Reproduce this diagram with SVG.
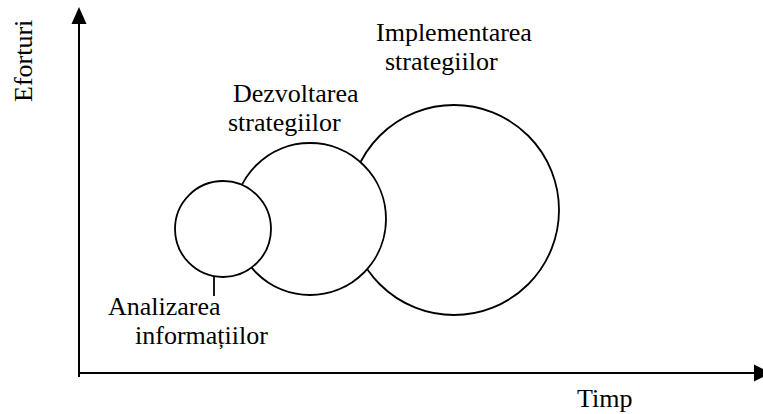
<svg xmlns="http://www.w3.org/2000/svg" width="763" height="414" viewBox="0 0 763 414">
  <style>
    text { font-family: 'Liberation Serif', 'Times New Roman', 'DejaVu Serif', serif; font-size: 26px; fill: #000; }
    .stage { fill: #fff; stroke: #000; stroke-width: 1.8; }
    .axis { stroke: #000; stroke-width: 2; fill: none; }
    .lead { stroke: #000; stroke-width: 1.8; }
  </style>
  <rect width="763" height="414" fill="#fff"/>

  <!-- axes -->
  <g id="axes" font-family="Liberation Serif, serif">
    <line class="axis" x1="79" y1="22" x2="79" y2="377"/>
    <polygon points="79,7 71.5,24 86.5,24" fill="#000"/>
    <line class="axis" x1="78" y1="373" x2="756" y2="373"/>
    <polygon points="754,364.5 754,381.5 771,373" fill="#000"/>
    <text transform="translate(32,102) rotate(-90)">Eforturi</text>
    <text x="577" y="407">Timp</text>
  </g>

  <!-- stages, drawn back to front -->
  <g id="implementare">
    <circle class="stage" cx="454" cy="210" r="105"/>
    <text x="376" y="41">Implementarea</text>
    <text x="385" y="70">strategiilor</text>
  </g>
  <g id="dezvoltare">
    <circle class="stage" cx="310" cy="219" r="76"/>
    <text x="233" y="102">Dezvoltarea</text>
    <text x="228" y="131">strategiilor</text>
  </g>
  <g id="analizare">
    <circle class="stage" cx="223" cy="229" r="48"/>
    <text x="108" y="315">Analizarea</text>
    <text x="135" y="344">informațiilor</text>
  </g>

  <!-- connectors -->
  <g id="connectors">
    <line class="lead" x1="214" y1="276" x2="214" y2="296"/>
  </g>
</svg>
